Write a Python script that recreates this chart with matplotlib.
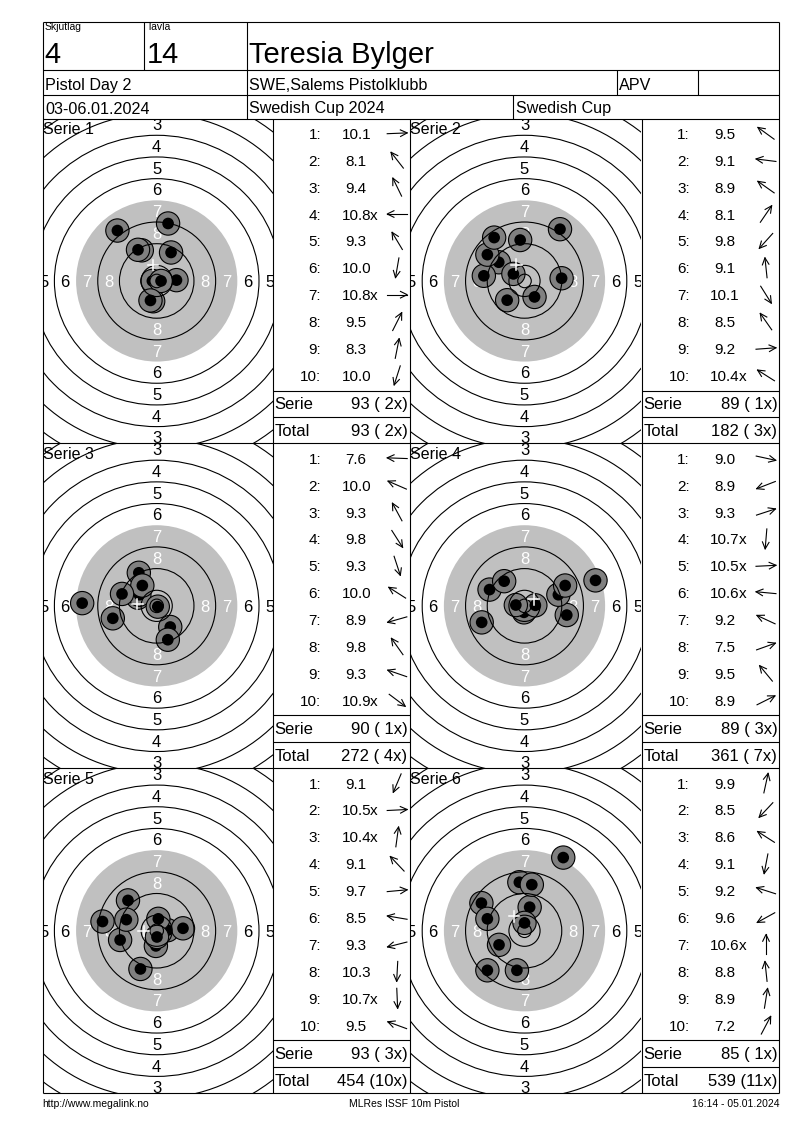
"""Summary
    Recreates an MLRes 10m pistol score sheet (six series with targets and shot lists).
"""
import math

import matplotlib
matplotlib.use('Agg')
import matplotlib.pyplot as plt
from matplotlib.patches import Circle
import numpy as np

plt.rcParams['font.family'] = ['Liberation Sans', 'DejaVu Sans']

# header / footer texts
relay_label = 'Skjutlag'
relay = '4'
lane_label = 'Tavla'
lane = '14'
shooter = 'Teresia Bylger'
event = 'Pistol Day 2'
club = 'SWE,Salems Pistolklubb'
shooter_class = 'APV'
dates = '03-06.01.2024'
competition = 'Swedish Cup 2024'
cup = 'Swedish Cup'
footer_left = 'http://www.megalink.no'
footer_mid = 'MLRes ISSF 10m Pistol'
footer_right = '16:14 - 05.01.2024'

# shot values and hit positions (mm from the centre, x right, y up)
s1_scores = ['10.1', '8.1', '9.4', '10.8x', '9.3', '10.0', '10.8x', '9.5', '8.3', '10.0']
s1_x = [7.3, -14.5, -5.5, -1.6, -6.9, -1.3, 1.6, 5.3, 4.2, -2.3]
s1_y = [0.3, 18.6, 11.3, 0.0, 11.5, -7.5, 0.0, 10.5, 21.2, -7.2]

s2_scores = ['9.5', '9.1', '8.9', '8.1', '9.8', '9.1', '10.1', '8.5', '9.2', '10.4x']
s2_x = [-9.5, -15.0, -13.7, 13.1, -6.4, -1.6, 3.7, -11.2, 13.7, -4.1]
s2_y = [6.9, 1.9, 9.7, 19.1, -7.1, 15.1, -5.9, 16.0, 1.0, 2.6]

s3_scores = ['7.6', '10.0', '9.3', '9.8', '9.3', '10.0', '8.9', '9.8', '9.3', '10.9x']
s3_x = [-27.5, -6.9, -6.6, 5.0, 4.1, -6.4, -16.2, -5.3, -12.8, 0.4]
s3_y = [1.0, 3.0, 12.2, -7.8, -12.5, 4.1, -4.6, 7.5, 4.4, -0.3]

s4_scores = ['9.0', '8.9', '9.3', '10.7x', '10.5x', '10.6x', '9.2', '7.5', '9.5', '8.9']
s4_x = [15.6, -15.8, 12.5, -0.2, 4.0, -3.2, -12.9, 26.2, -7.5, 15.0]
s4_y = [-3.4, -6.1, 4.1, -2.4, 0.2, 0.3, 6.0, 9.4, 9.1, 7.5]

s5_scores = ['9.1', '10.5x', '10.4x', '9.1', '9.7', '8.5', '9.3', '10.3', '10.7x', '9.5']
s5_x = [-6.0, 4.0, 0.6, -10.6, 9.7, -20.0, -13.5, -0.3, 0.1, -11.2]
s5_y = [-14.1, 0.2, 4.4, 11.2, 0.9, 3.4, -3.4, -5.6, -2.3, 4.1]

s6_scores = ['9.9', '8.5', '8.6', '9.1', '9.2', '9.6', '10.6x', '8.8', '8.9', '7.2']
s6_x = [1.9, -13.7, -15.9, -2.8, -13.7, -9.4, 0.0, -1.9, 2.7, 14.3]
s6_y = [8.7, -14.6, 10.2, -14.6, 4.4, -5.2, 2.9, 17.9, 17.0, 27.0]

series = [(s1_scores, s1_x, s1_y), (s2_scores, s2_x, s2_y), (s3_scores, s3_x, s3_y),
          (s4_scores, s4_x, s4_y), (s5_scores, s5_x, s5_y), (s6_scores, s6_x, s6_y)]

# page geometry (pixels)
W, H = 800, 1130
PX_MM = 2.71
LW = 0.8
LEFT, RIGHT = 42.7, 779.3
TOP = 21.5
COLS = [42.7, 272.7, 409.5, 641.5, 779.3]
ROW_TOP = 118.5
ROW_H = 324.9
BOTTOM = ROW_TOP + 3 * ROW_H

fig = plt.figure(figsize=(8, 11.3), dpi=100)
base = fig.add_axes([0, 0, 1, 1])
base.set_xlim(0, W)
base.set_ylim(H, 0)
base.axis('off')
base.set_zorder(5)
base.patch.set_alpha(0)


def hline(y, x0, x1):
    base.plot([x0, x1], [y, y], color='black', lw=LW, solid_capstyle='butt')


def vline(x, y0, y1):
    base.plot([x, x], [y0, y1], color='black', lw=LW, solid_capstyle='butt')


# header grid
for y in [TOP, 70, 95]:
    hline(y, LEFT, RIGHT)
vline(LEFT, TOP, BOTTOM)
vline(RIGHT, TOP, BOTTOM)
vline(144.3, TOP, 70)
vline(246.7, TOP, ROW_TOP)
vline(616.7, 70, 95)
vline(698.3, 70, 95)
vline(513.3, 95, ROW_TOP)

base.text(44.5, 30, relay_label, fontsize=7.5, va='baseline')
base.text(44, 63, relay, fontsize=21, va='baseline')
base.text(146.5, 30, lane_label, fontsize=7.5, va='baseline')
base.text(146.5, 63, lane, fontsize=21, va='baseline')
base.text(249, 63, shooter, fontsize=21, va='baseline')
base.text(45, 90, event, fontsize=11.6, va='baseline')
base.text(249, 90, club, fontsize=11.6, va='baseline')
base.text(619, 90, shooter_class, fontsize=11.6, va='baseline')
base.text(45, 113.5, dates, fontsize=11.6, va='baseline')
base.text(249, 113.5, competition, fontsize=11.6, va='baseline')
base.text(516, 113.5, cup, fontsize=11.6, va='baseline')

# panel grid
for k in range(4):
    hline(ROW_TOP + k * ROW_H, LEFT, RIGHT)
for x in COLS[1:4]:
    vline(x, ROW_TOP, BOTTOM)

label_off = 2.2  # half cap height of ring numbers, mm
total = 0
total_x = 0
for i, (scores, xs, ys) in enumerate(series):
    r, c = divmod(i, 2)
    x0, x1 = COLS[2 * c], COLS[2 * c + 1]
    tx0, tx1 = COLS[2 * c + 1], COLS[2 * c + 2]
    y0 = ROW_TOP + r * ROW_H
    y1 = y0 + ROW_H

    # target, centre one pixel left of the cell centre
    ax = fig.add_axes([x0 / W, 1 - y1 / H, (x1 - x0) / W, (y1 - y0) / H])
    hw_px = (x1 - x0) / 2
    hh_px = (y1 - y0) / 2
    ax.set_xlim(-(hw_px - 1) / PX_MM, (hw_px + 1) / PX_MM)
    ax.set_ylim(-hh_px / PX_MM, hh_px / PX_MM)
    ax.axis('off')
    ax.add_patch(Circle((0, 0), 29.75, fc='#c0c0c0', ec='none', zorder=1))
    for n in range(1, 9):
        rad = 1.75 + (10 - n) * 8
        col = 'white' if n >= 7 else 'black'
        for dx, dy in [(1, 0), (-1, 0), (0, 1), (0, -1)]:
            lim = hw_px if dx else hh_px
            if rad * PX_MM - 6 > lim:
                continue
            ax.text(dx * rad, dy * rad - label_off, str(n), ha='center', va='baseline',
                    fontsize=12, color=col, zorder=2, clip_on=True)
    for sx, sy in zip(xs, ys):
        ax.add_patch(Circle((sx, sy), 4.3, fc='#808080', ec='black', lw=LW, zorder=3))
        ax.add_patch(Circle((sx, sy), 2.15, fc='black', ec='none', zorder=3))
    for n in [1, 2, 3, 4, 5, 6, 8, 9, 10]:
        ax.add_patch(Circle((0, 0), 5.75 + (10 - n) * 8, fill=False, ec='black', lw=LW, zorder=4))
    ax.add_patch(Circle((0, 0), 2.5, fill=False, ec='black', lw=LW, zorder=4))
    mx, my = np.mean(xs), np.mean(ys)
    ax.plot([mx - 2.0, mx + 2.0], [my, my], color='white', lw=1.1, zorder=5)
    ax.plot([mx, mx], [my - 2.0, my + 2.0], color='white', lw=1.1, zorder=5)
    base.text(x0 + 0.5, y0 + 15.5, 'Serie %d' % (i + 1), fontsize=11.5, va='baseline')

    # shot list
    for j, s in enumerate(scores):
        yc = y0 + 14.8 + j * 26.9
        base.text(tx0 + 48.5, yc + 5.5, '%d:' % (j + 1), ha='right', va='baseline', fontsize=11)
        base.text(tx0 + 83.5, yc + 5.5, s.rstrip('x'), ha='center', va='baseline', fontsize=11)
        if s.endswith('x'):
            base.text(tx0 + 97.3, yc + 5.5, 'x', ha='left', va='baseline', fontsize=11)
        ang = math.atan2(ys[j], xs[j])
        ux, uy = math.cos(ang), -math.sin(ang)
        cx = tx0 + 124.5
        hx, hy = cx + ux * 10, yc + uy * 10
        base.plot([cx - ux * 10, hx], [yc - uy * 10, hy], color='black', lw=LW)
        bx, by = [], []
        for sgn in (1, -1):
            a = math.atan2(-uy, -ux) + sgn * math.radians(26)
            bx.append(hx + 7.5 * math.cos(a))
            by.append(hy + 7.5 * math.sin(a))
        base.plot([bx[0], hx, bx[1]], [by[0], hy, by[1]], color='black', lw=LW)

    serie = sum(int(float(s.rstrip('x'))) for s in scores)
    serie_x = sum(1 for s in scores if s.endswith('x'))
    total += serie
    total_x += serie_x
    hline(y0 + 272, tx0, tx1)
    hline(y0 + 298.5, tx0, tx1)
    base.text(tx0 + 2, y0 + 290.8, 'Serie', fontsize=12, va='baseline')
    base.text(tx1 - 2, y0 + 290.8, '%d (%2dx)' % (serie, serie_x), fontsize=12,
              ha='right', va='baseline')
    base.text(tx0 + 2, y0 + 317.5, 'Total', fontsize=12, va='baseline')
    base.text(tx1 - 2, y0 + 317.5, '%d (%2dx)' % (total, total_x), fontsize=12,
              ha='right', va='baseline')

# footer
base.text(42, 1107, footer_left, fontsize=7.5, va='baseline')
base.text(404, 1107, footer_mid, fontsize=7.5, ha='center', va='baseline')
base.text(779, 1107, footer_right, fontsize=7.5, ha='right', va='baseline')

fig.savefig('out.png', dpi=100, facecolor='white')
